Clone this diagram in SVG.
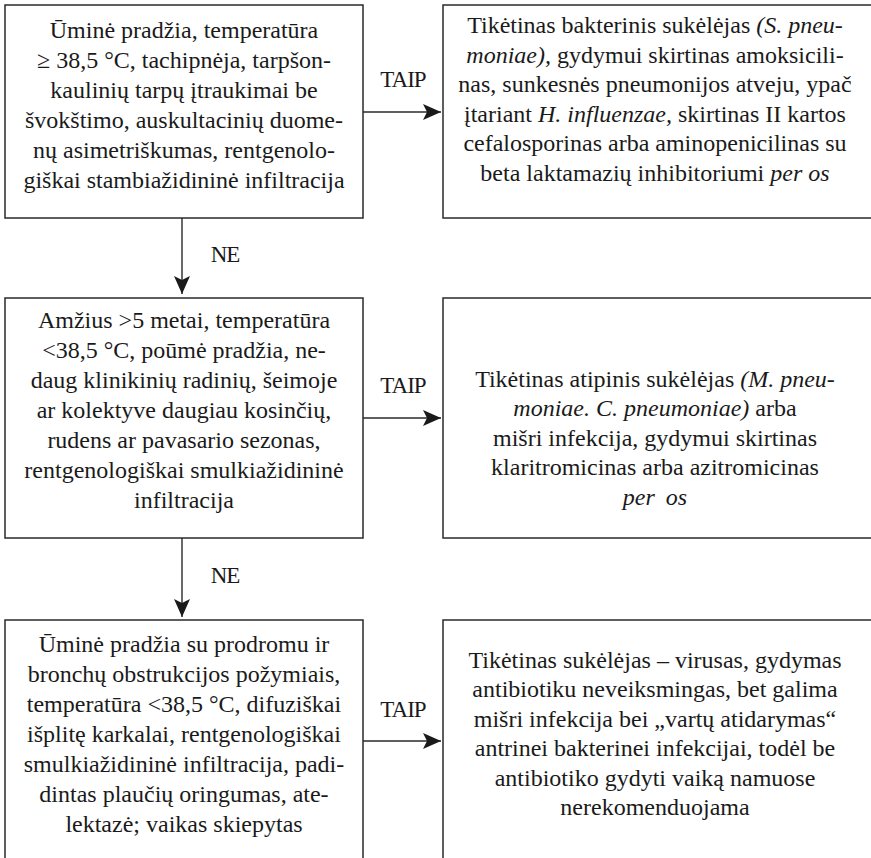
<svg xmlns="http://www.w3.org/2000/svg" width="871" height="858" viewBox="0 0 871 858">
<style>
.box{fill:#fff;stroke:#2a2a2a;stroke-width:1.5}
.t{font-family:"Liberation Serif","Times New Roman",serif;font-size:24px;fill:#1a1a1a;text-anchor:middle}
.lbl{font-family:"Liberation Serif","Times New Roman",serif;font-size:23px;fill:#1a1a1a;text-anchor:middle;letter-spacing:-1px}
.i{font-style:italic}
.c{stroke:#2a2a2a;stroke-width:1.4;fill:none;marker-end:url(#ah)}
</style>
<defs>
<marker id="ah" markerUnits="userSpaceOnUse" markerWidth="20" markerHeight="18" refX="18" refY="8" orient="auto" viewBox="0 0 20 18">
<path d="M0,0 L18,8 L0,16 L4,8 Z" fill="#1a1a1a"/>
</marker>
</defs>
<rect width="871" height="858" fill="#fff"/>
<g id="connectors">
<line class="c" x1="363" y1="112" x2="441" y2="112"/>
<line class="c" x1="363" y1="418" x2="441" y2="418"/>
<line class="c" x1="363" y1="741" x2="441" y2="741"/>
<line class="c" x1="182" y1="218" x2="182" y2="294"/>
<line class="c" x1="182" y1="538" x2="182" y2="617"/>
<text class="lbl" x="403" y="87">TAIP</text>
<text class="lbl" x="403" y="393">TAIP</text>
<text class="lbl" x="403" y="717">TAIP</text>
<text class="lbl" x="225" y="262">NE</text>
<text class="lbl" x="225" y="583">NE</text>
</g>
<g id="n1">
<rect class="box" x="5" y="5" width="358" height="213"/>
<text class="t" x="184" y="38">Ūminė pradžia, temperatūra</text>
<text class="t" x="184" y="68">≥ 38,5 °C, tachipnėja, tarpšon-</text>
<text class="t" x="184" y="98">kaulinių tarpų įtraukimai be</text>
<text class="t" x="184" y="128">švokštimo, auskultacinių duome-</text>
<text class="t" x="184" y="158">nų asimetriškumas, rentgenolo-</text>
<text class="t" x="184" y="188">giškai stambiažidininė infiltracija</text>
</g>
<g id="n2">
<rect class="box" x="443" y="5" width="432" height="213"/>
<text class="t" x="655" y="33">Tikėtinas bakterinis sukėlėjas <tspan class="i">(S. pneu-</tspan></text>
<text class="t" x="655" y="63"><tspan class="i">moniae),</tspan> gydymui skirtinas amoksicili-</text>
<text class="t" x="655" y="92">nas, sunkesnės pneumonijos atveju, ypač</text>
<text class="t" x="655" y="122">įtariant <tspan class="i">H. influenzae,</tspan> skirtinas II kartos</text>
<text class="t" x="655" y="151">cefalosporinas arba aminopenicilinas su</text>
<text class="t" x="655" y="181">beta laktamazių inhibitoriumi <tspan class="i">per os</tspan></text>
</g>
<g id="n3">
<rect class="box" x="5" y="298" width="358" height="240"/>
<text class="t" x="184" y="328">Amžius &gt;5 metai, temperatūra</text>
<text class="t" x="184" y="358">&lt;38,5 °C, poūmė pradžia, ne-</text>
<text class="t" x="184" y="388">daug klinikinių radinių, šeimoje</text>
<text class="t" x="184" y="418">ar kolektyve daugiau kosinčių,</text>
<text class="t" x="184" y="448">rudens ar pavasario sezonas,</text>
<text class="t" x="184" y="478">rentgenologiškai smulkiažidininė</text>
<text class="t" x="184" y="508">infiltracija</text>
</g>
<g id="n4">
<rect class="box" x="443" y="298" width="432" height="240"/>
<text class="t" x="655" y="387">Tikėtinas atipinis sukėlėjas <tspan class="i">(M. pneu-</tspan></text>
<text class="t" x="655" y="416"><tspan class="i">moniae. C. pneumoniae)</tspan> arba</text>
<text class="t" x="655" y="446">mišri infekcija, gydymui skirtinas</text>
<text class="t" x="655" y="475">klaritromicinas arba azitromicinas</text>
<text class="t i" x="655" y="505">per <tspan dx="5">os</tspan></text>
</g>
<g id="n5">
<rect class="box" x="5" y="620" width="358" height="260"/>
<text class="t" x="184" y="652">Ūminė pradžia su prodromu ir</text>
<text class="t" x="184" y="682">bronchų obstrukcijos požymiais,</text>
<text class="t" x="184" y="712">temperatūra &lt;38,5 °C, difuziškai</text>
<text class="t" x="184" y="742">išplitę karkalai, rentgenologiškai</text>
<text class="t" x="184" y="772">smulkiažidininė infiltracija, padi-</text>
<text class="t" x="184" y="802">dintas plaučių oringumas, ate-</text>
<text class="t" x="184" y="832">lektazė; vaikas skiepytas</text>
</g>
<g id="n6">
<rect class="box" x="443" y="620" width="432" height="260"/>
<text class="t" x="655" y="668">Tikėtinas sukėlėjas – virusas, gydymas</text>
<text class="t" x="655" y="697">antibiotiku neveiksmingas, bet galima</text>
<text class="t" x="655" y="727">mišri infekcija bei „vartų atidarymas“</text>
<text class="t" x="655" y="756">antrinei bakterinei infekcijai, todėl be</text>
<text class="t" x="655" y="786">antibiotiko gydyti vaiką namuose</text>
<text class="t" x="655" y="815">nerekomenduojama</text>
</g>
</svg>
